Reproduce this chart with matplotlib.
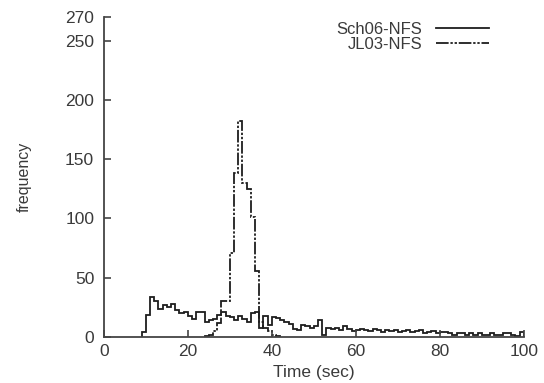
import numpy as np
import matplotlib
matplotlib.use("Agg")
import matplotlib.pyplot as plt

# Sch06-NFS: 1-second bins from t=9 to t=100
sch06_start = 9
sch06 = [4, 19, 34, 30, 24, 27, 25, 28, 23, 20,
         21, 18, 15, 21, 21, 13, 14, 15, 19, 21,
         18, 17, 14, 18, 15, 13, 20, 21, 8, 18,
         10, 17, 16, 14, 13, 11, 7, 6, 10, 9,
         8, 9, 14, 2, 8, 7, 8, 6, 9, 7,
         5, 6, 7, 6, 5, 7, 6, 4, 6, 5,
         6, 4, 5, 6, 4, 5, 6, 3, 4, 5,
         3, 4, 4, 3, 2, 3, 3, 2, 3, 2,
         3, 2, 2, 3, 2, 2, 3, 3, 2, 1,
         4]
# JL03-NFS: 1-second bins from t=24
jl03_start = 24
jl03 = [1, 2, 5, 12, 30, 30, 71, 138, 182, 130,
        125, 101, 56, 13, 8, 5, 2, 1]

xticks = [0, 20, 40, 60, 80, 100]
yticks = [0, 50, 100, 150, 200, 250, 270]

plt.rcParams['font.family'] = ['Liberation Sans', 'DejaVu Sans']
txt = '#3a3a3a'
lc = '#1e1e1e'

fig = plt.figure(figsize=(5.44, 3.83), dpi=100)
ax = fig.add_axes([0.191, 0.120, 0.772, 0.836])

e1 = np.arange(len(sch06) + 1) + sch06_start
e2 = np.arange(len(jl03) + 1) + jl03_start
ax.stairs(sch06, e1, baseline=0, color=lc, lw=1.3,
          label='Sch06-NFS')
ax.stairs(jl03, e2, baseline=0, color=lc, lw=1.3,
          linestyle=(0, (7, 1.0, 1.3, 1.0, 1.3, 1.0)), label='JL03-NFS')

ax.set_xlim(0, 100)
ax.set_ylim(0, 270)
ax.set_xticks(xticks)
ax.set_yticks(yticks)
ax.tick_params(direction='in', length=5, width=1.2, colors='#444444',
               labelcolor=txt, labelsize=12.5)
ax.tick_params(axis='y', pad=7)
ax.tick_params(axis='x', pad=5)
for s in ['top', 'right']:
    ax.spines[s].set_visible(False)
for s in ['left', 'bottom']:
    ax.spines[s].set_color('#444444')
    ax.spines[s].set_linewidth(1.3)

ax.set_xlabel('Time (sec)', color=txt, fontsize=12.5, labelpad=4)
ax.set_ylabel('frequency', color=txt, fontsize=11.5, labelpad=24)

leg = ax.legend(loc='upper right', bbox_to_anchor=(0.945, 1.02),
                frameon=False, markerfirst=False, fontsize=12,
                handlelength=3.2, handletextpad=0.8, labelspacing=0.0,
                borderaxespad=0.3)
for t in leg.get_texts():
    t.set_color(txt)
leg._legend_box.align = 'right'

fig.savefig('out.png', dpi=100)
